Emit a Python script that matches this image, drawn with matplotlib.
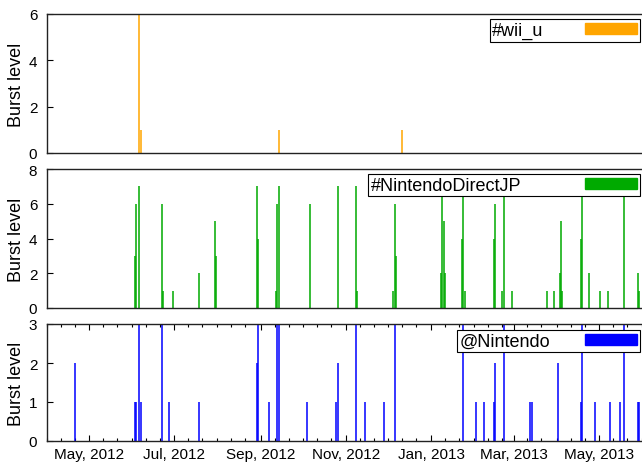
import pandas as pd
import matplotlib
matplotlib.use("Agg")
import matplotlib.pyplot as plt
import matplotlib.dates as mdates
from matplotlib.patches import Patch

plt.rcParams['font.family'] = ['Liberation Sans', 'DejaVu Sans']

# burst levels per day
wii_u_dates = ['2012-06-06', '2012-06-07', '2012-09-14', '2012-12-11']
wii_u_levels = [6, 1, 1, 1]

direct_dates = [
    '2012-06-03', '2012-06-04', '2012-06-06', '2012-06-22', '2012-06-23',
    '2012-06-30', '2012-07-19', '2012-07-30', '2012-07-31', '2012-08-29',
    '2012-08-30', '2012-09-12', '2012-09-13', '2012-09-14', '2012-10-06',
    '2012-10-26', '2012-11-08', '2012-11-09', '2012-12-05', '2012-12-06',
    '2012-12-07', '2013-01-08', '2013-01-09', '2013-01-10', '2013-01-11',
    '2013-01-23', '2013-01-24', '2013-01-25', '2013-02-15', '2013-02-16',
    '2013-02-21', '2013-02-22', '2013-02-28', '2013-03-25', '2013-03-30',
    '2013-04-03', '2013-04-04', '2013-04-05', '2013-04-18', '2013-04-19',
    '2013-04-24', '2013-05-02', '2013-05-08', '2013-05-19', '2013-05-29',
    '2013-05-30',
]
direct_levels = [
    3, 6, 7, 6, 1,
    1, 2, 5, 3, 7,
    4, 1, 6, 7, 6,
    7, 7, 1, 1, 6,
    3, 2, 7, 5, 2,
    4, 7, 1, 4, 6,
    1, 7, 1, 1, 1,
    2, 5, 1, 4, 7,
    2, 1, 1, 7, 2,
    1,
]

nintendo_dates = [
    '2012-04-21', '2012-06-03', '2012-06-04', '2012-06-06', '2012-06-07',
    '2012-06-22', '2012-06-27', '2012-07-19', '2012-08-29', '2012-08-30',
    '2012-09-07', '2012-09-13', '2012-09-14', '2012-10-04', '2012-10-25',
    '2012-10-26', '2012-11-08', '2012-11-15', '2012-11-28', '2012-12-06',
    '2013-01-24', '2013-02-02', '2013-02-08', '2013-02-15', '2013-02-16',
    '2013-02-22', '2013-03-13', '2013-03-14', '2013-04-02', '2013-04-18',
    '2013-04-19', '2013-04-28', '2013-05-09', '2013-05-16', '2013-05-19',
    '2013-05-29', '2013-05-30',
]
nintendo_levels = [
    2, 1, 1, 3, 1,
    3, 1, 1, 2, 3,
    1, 3, 3, 1, 1,
    2, 3, 1, 1, 3,
    3, 1, 1, 1, 2,
    3, 1, 1, 2, 1,
    3, 1, 1, 1, 3,
    1, 1,
]

panels = [
    ('#wii_u', wii_u_dates, wii_u_levels, '#ffa500', [0, 2, 4, 6]),
    ('#NintendoDirectJP', direct_dates, direct_levels, '#00aa00', [0, 2, 4, 6, 8]),
    ('@Nintendo', nintendo_dates, nintendo_levels, '#0000ff', [0, 1, 2, 3]),
]

# layout in pixels of the 642x464 canvas
W, H = 642, 464
left = 47
boxes = [(15, 154), (170, 309), (325, 442)]
textpads = [2.3, 3.55, 1.95]
leg_tops = [0.964, 0.964, 0.949]

fig = plt.figure(figsize=(W / 100, H / 100), dpi=100)

for i, (name, dates, levels, color, yticks) in enumerate(panels):
    top, bottom = boxes[i]
    ax = fig.add_axes([left / W, (H - bottom) / H, 1 - left / W, (bottom - top) / H])
    x = pd.to_datetime(dates)
    # impulses
    ax.vlines(x, 0, levels, color=color, linewidth=1.1)

    ax.set_xlim(pd.Timestamp('2012-04-01'), pd.Timestamp('2013-06-01'))
    ax.set_ylim(yticks[0], yticks[-1])
    ax.set_yticks(yticks)
    ax.set_ylabel('Burst level', fontsize=13, va='center')
    ax.yaxis.set_label_coords(-0.052, 0.5)

    for side in ['top', 'bottom', 'left']:
        ax.spines[side].set_linewidth(1.0)
        ax.spines[side].set_color('#222222')
    ax.spines['right'].set_visible(False)

    ax.tick_params(axis='y', direction='in', length=4, width=0.8,
                   labelsize=11, pad=7, right=False)

    if i == 2:
        ax.xaxis.set_major_locator(mdates.MonthLocator(bymonth=[1, 3, 5, 7, 9, 11]))
        ax.xaxis.set_minor_locator(mdates.DayLocator(bymonthday=[1, 11, 21]))
        ax.xaxis.set_major_formatter(mdates.DateFormatter('%b, %Y'))
        ax.tick_params(axis='x', which='major', direction='in', length=4,
                       width=0.8, top=True, labelsize=11, pad=4)
        ax.tick_params(axis='x', which='minor', direction='in', length=2,
                       width=0.8, top=True)
    else:
        ax.set_xticks([])

    leg = ax.legend(handles=[Patch(color=color, label=name)], loc='upper right',
                    bbox_to_anchor=(0.9966, leg_tops[i]), borderaxespad=0,
                    markerfirst=False, handlelength=2.88, handleheight=0.55,
                    handletextpad=textpads[i], borderpad=0.15, fancybox=False,
                    framealpha=1, edgecolor='black', fontsize=13)
    leg.get_frame().set_linewidth(0.8)

fig.savefig('out.png', dpi=100)
